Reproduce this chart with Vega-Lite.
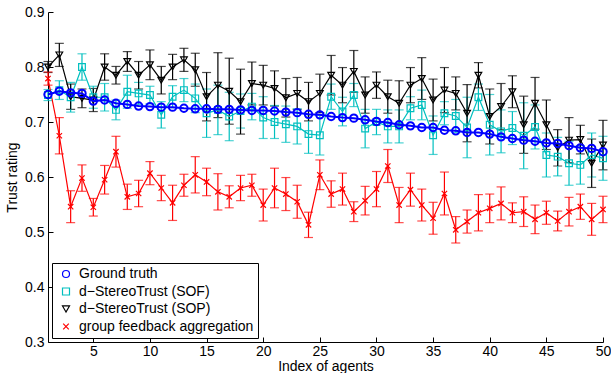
{
  "$schema": "https://vega.github.io/schema/vega-lite/v6.json",
  "width": 555,
  "height": 330,
  "autosize": "none",
  "padding": {"left": 48, "top": 12, "right": 8, "bottom": 31},
  "background": "white",
  "config": {
    "view": {"stroke": null},
    "font": "Liberation Sans",
    "axis": {
      "domainColor": "black", "domainWidth": 1, "tickColor": "black", "tickSize": -5, "tickWidth": 1,
      "labelColor": "black", "labelFont": "Liberation Sans", "labelFontSize": 14,
      "titleColor": "black", "titleFont": "Liberation Sans", "titleFontSize": 14, "titleFontWeight": "normal",
      "grid": false
    },
    "legend": {
      "labelFont": "Liberation Sans", "labelFontSize": 14, "labelColor": "black", "labelLimit": 400,
      "symbolSize": 49, "symbolStrokeWidth": 1.2, "symbolOffset": 3, "labelOffset": 6,
      "fillColor": "white", "strokeColor": "black", "padding": 4, "rowPadding": 3.5, "cornerRadius": 0
    }
  },
  "resolve": {"legend": {"color": "independent", "shape": "independent"}},
  "data": {"values": [
    {"s":"Ground truth","x":1,"y":0.750,"e":0},{"s":"Ground truth","x":2,"y":0.756,"e":0},{"s":"Ground truth","x":3,"y":0.753,"e":0},{"s":"Ground truth","x":4,"y":0.752,"e":0},{"s":"Ground truth","x":5,"y":0.738,"e":0},
    {"s":"Ground truth","x":6,"y":0.740,"e":0},{"s":"Ground truth","x":7,"y":0.734,"e":0},{"s":"Ground truth","x":8,"y":0.732,"e":0},{"s":"Ground truth","x":9,"y":0.729,"e":0},{"s":"Ground truth","x":10,"y":0.728,"e":0},
    {"s":"Ground truth","x":11,"y":0.727,"e":0},{"s":"Ground truth","x":12,"y":0.727,"e":0},{"s":"Ground truth","x":13,"y":0.725,"e":0},{"s":"Ground truth","x":14,"y":0.724,"e":0},{"s":"Ground truth","x":15,"y":0.724,"e":0},
    {"s":"Ground truth","x":16,"y":0.723,"e":0},{"s":"Ground truth","x":17,"y":0.723,"e":0},{"s":"Ground truth","x":18,"y":0.722,"e":0},{"s":"Ground truth","x":19,"y":0.721,"e":0},{"s":"Ground truth","x":20,"y":0.721,"e":0},
    {"s":"Ground truth","x":21,"y":0.720,"e":0},{"s":"Ground truth","x":22,"y":0.718,"e":0},{"s":"Ground truth","x":23,"y":0.717,"e":0},{"s":"Ground truth","x":24,"y":0.714,"e":0},{"s":"Ground truth","x":25,"y":0.713,"e":0},
    {"s":"Ground truth","x":26,"y":0.710,"e":0},{"s":"Ground truth","x":27,"y":0.708,"e":0},{"s":"Ground truth","x":28,"y":0.707,"e":0},{"s":"Ground truth","x":29,"y":0.704,"e":0},{"s":"Ground truth","x":30,"y":0.701,"e":0},
    {"s":"Ground truth","x":31,"y":0.699,"e":0},{"s":"Ground truth","x":32,"y":0.695,"e":0},{"s":"Ground truth","x":33,"y":0.693,"e":0},{"s":"Ground truth","x":34,"y":0.690,"e":0},{"s":"Ground truth","x":35,"y":0.690,"e":0},
    {"s":"Ground truth","x":36,"y":0.685,"e":0},{"s":"Ground truth","x":37,"y":0.684,"e":0},{"s":"Ground truth","x":38,"y":0.681,"e":0},{"s":"Ground truth","x":39,"y":0.681,"e":0},{"s":"Ground truth","x":40,"y":0.678,"e":0},
    {"s":"Ground truth","x":41,"y":0.673,"e":0},{"s":"Ground truth","x":42,"y":0.670,"e":0},{"s":"Ground truth","x":43,"y":0.667,"e":0},{"s":"Ground truth","x":44,"y":0.665,"e":0},{"s":"Ground truth","x":45,"y":0.662,"e":0},
    {"s":"Ground truth","x":46,"y":0.661,"e":0},{"s":"Ground truth","x":47,"y":0.657,"e":0},{"s":"Ground truth","x":48,"y":0.653,"e":0},{"s":"Ground truth","x":49,"y":0.652,"e":0},{"s":"Ground truth","x":50,"y":0.646,"e":0},

    {"s":"d−StereoTrust (SOF)","x":1,"y":0.749,"e":0.010},{"s":"d−StereoTrust (SOF)","x":2,"y":0.758,"e":0.017},{"s":"d−StereoTrust (SOF)","x":3,"y":0.745,"e":0.027},{"s":"d−StereoTrust (SOF)","x":4,"y":0.800,"e":0.024},{"s":"d−StereoTrust (SOF)","x":5,"y":0.745,"e":0.020},
    {"s":"d−StereoTrust (SOF)","x":6,"y":0.745,"e":0.025},{"s":"d−StereoTrust (SOF)","x":7,"y":0.722,"e":0.018},{"s":"d−StereoTrust (SOF)","x":8,"y":0.755,"e":0.030},{"s":"d−StereoTrust (SOF)","x":9,"y":0.752,"e":0.020},{"s":"d−StereoTrust (SOF)","x":10,"y":0.749,"e":0.016},
    {"s":"d−StereoTrust (SOF)","x":11,"y":0.713,"e":0.024},{"s":"d−StereoTrust (SOF)","x":12,"y":0.746,"e":0.020},{"s":"d−StereoTrust (SOF)","x":13,"y":0.758,"e":0.021},{"s":"d−StereoTrust (SOF)","x":14,"y":0.743,"e":0.026},{"s":"d−StereoTrust (SOF)","x":15,"y":0.716,"e":0.044},
    {"s":"d−StereoTrust (SOF)","x":16,"y":0.722,"e":0.045},{"s":"d−StereoTrust (SOF)","x":17,"y":0.710,"e":0.044},{"s":"d−StereoTrust (SOF)","x":18,"y":0.720,"e":0.031},{"s":"d−StereoTrust (SOF)","x":19,"y":0.728,"e":0.024},{"s":"d−StereoTrust (SOF)","x":20,"y":0.708,"e":0.038},
    {"s":"d−StereoTrust (SOF)","x":21,"y":0.700,"e":0.030},{"s":"d−StereoTrust (SOF)","x":22,"y":0.696,"e":0.033},{"s":"d−StereoTrust (SOF)","x":23,"y":0.692,"e":0.032},{"s":"d−StereoTrust (SOF)","x":24,"y":0.678,"e":0.035},{"s":"d−StereoTrust (SOF)","x":25,"y":0.676,"e":0.036},
    {"s":"d−StereoTrust (SOF)","x":26,"y":0.746,"e":0.023},{"s":"d−StereoTrust (SOF)","x":27,"y":0.719,"e":0.026},{"s":"d−StereoTrust (SOF)","x":28,"y":0.749,"e":0.021},{"s":"d−StereoTrust (SOF)","x":29,"y":0.688,"e":0.035},{"s":"d−StereoTrust (SOF)","x":30,"y":0.700,"e":0.023},
    {"s":"d−StereoTrust (SOF)","x":31,"y":0.692,"e":0.030},{"s":"d−StereoTrust (SOF)","x":32,"y":0.692,"e":0.030},{"s":"d−StereoTrust (SOF)","x":33,"y":0.725,"e":0.021},{"s":"d−StereoTrust (SOF)","x":34,"y":0.731,"e":0.027},{"s":"d−StereoTrust (SOF)","x":35,"y":0.676,"e":0.035},
    {"s":"d−StereoTrust (SOF)","x":36,"y":0.716,"e":0.021},{"s":"d−StereoTrust (SOF)","x":37,"y":0.711,"e":0.030},{"s":"d−StereoTrust (SOF)","x":38,"y":0.690,"e":0.055},{"s":"d−StereoTrust (SOF)","x":39,"y":0.745,"e":0.024},{"s":"d−StereoTrust (SOF)","x":40,"y":0.695,"e":0.055},
    {"s":"d−StereoTrust (SOF)","x":41,"y":0.683,"e":0.039},{"s":"d−StereoTrust (SOF)","x":42,"y":0.689,"e":0.030},{"s":"d−StereoTrust (SOF)","x":43,"y":0.675,"e":0.060},{"s":"d−StereoTrust (SOF)","x":44,"y":0.691,"e":0.040},{"s":"d−StereoTrust (SOF)","x":45,"y":0.640,"e":0.040},
    {"s":"d−StereoTrust (SOF)","x":46,"y":0.637,"e":0.035},{"s":"d−StereoTrust (SOF)","x":47,"y":0.625,"e":0.040},{"s":"d−StereoTrust (SOF)","x":48,"y":0.622,"e":0.035},{"s":"d−StereoTrust (SOF)","x":49,"y":0.640,"e":0.040},{"s":"d−StereoTrust (SOF)","x":50,"y":0.634,"e":0.040},

    {"s":"d−StereoTrust (SOP)","x":1,"y":0.800,"e":0.010},{"s":"d−StereoTrust (SOP)","x":2,"y":0.822,"e":0.021},{"s":"d−StereoTrust (SOP)","x":3,"y":0.746,"e":0.023},{"s":"d−StereoTrust (SOP)","x":4,"y":0.743,"e":0.017},{"s":"d−StereoTrust (SOP)","x":5,"y":0.740,"e":0.021},
    {"s":"d−StereoTrust (SOP)","x":6,"y":0.800,"e":0.024},{"s":"d−StereoTrust (SOP)","x":7,"y":0.785,"e":0.016},{"s":"d−StereoTrust (SOP)","x":8,"y":0.810,"e":0.018},{"s":"d−StereoTrust (SOP)","x":9,"y":0.785,"e":0.025},{"s":"d−StereoTrust (SOP)","x":10,"y":0.804,"e":0.027},
    {"s":"d−StereoTrust (SOP)","x":11,"y":0.776,"e":0.025},{"s":"d−StereoTrust (SOP)","x":12,"y":0.800,"e":0.023},{"s":"d−StereoTrust (SOP)","x":13,"y":0.813,"e":0.021},{"s":"d−StereoTrust (SOP)","x":14,"y":0.795,"e":0.030},{"s":"d−StereoTrust (SOP)","x":15,"y":0.746,"e":0.044},
    {"s":"d−StereoTrust (SOP)","x":16,"y":0.767,"e":0.059},{"s":"d−StereoTrust (SOP)","x":17,"y":0.756,"e":0.060},{"s":"d−StereoTrust (SOP)","x":18,"y":0.737,"e":0.059},{"s":"d−StereoTrust (SOP)","x":19,"y":0.770,"e":0.039},{"s":"d−StereoTrust (SOP)","x":20,"y":0.767,"e":0.036},
    {"s":"d−StereoTrust (SOP)","x":21,"y":0.761,"e":0.032},{"s":"d−StereoTrust (SOP)","x":22,"y":0.744,"e":0.035},{"s":"d−StereoTrust (SOP)","x":23,"y":0.752,"e":0.029},{"s":"d−StereoTrust (SOP)","x":24,"y":0.737,"e":0.035},{"s":"d−StereoTrust (SOP)","x":25,"y":0.752,"e":0.035},
    {"s":"d−StereoTrust (SOP)","x":26,"y":0.785,"e":0.036},{"s":"d−StereoTrust (SOP)","x":27,"y":0.767,"e":0.032},{"s":"d−StereoTrust (SOP)","x":28,"y":0.792,"e":0.038},{"s":"d−StereoTrust (SOP)","x":29,"y":0.749,"e":0.033},{"s":"d−StereoTrust (SOP)","x":30,"y":0.767,"e":0.024},
    {"s":"d−StereoTrust (SOP)","x":31,"y":0.746,"e":0.030},{"s":"d−StereoTrust (SOP)","x":32,"y":0.734,"e":0.041},{"s":"d−StereoTrust (SOP)","x":33,"y":0.767,"e":0.032},{"s":"d−StereoTrust (SOP)","x":34,"y":0.779,"e":0.038},{"s":"d−StereoTrust (SOP)","x":35,"y":0.740,"e":0.038},
    {"s":"d−StereoTrust (SOP)","x":36,"y":0.758,"e":0.041},{"s":"d−StereoTrust (SOP)","x":37,"y":0.752,"e":0.030},{"s":"d−StereoTrust (SOP)","x":38,"y":0.716,"e":0.052},{"s":"d−StereoTrust (SOP)","x":39,"y":0.785,"e":0.023},{"s":"d−StereoTrust (SOP)","x":40,"y":0.710,"e":0.050},
    {"s":"d−StereoTrust (SOP)","x":41,"y":0.728,"e":0.042},{"s":"d−StereoTrust (SOP)","x":42,"y":0.755,"e":0.029},{"s":"d−StereoTrust (SOP)","x":43,"y":0.695,"e":0.052},{"s":"d−StereoTrust (SOP)","x":44,"y":0.734,"e":0.047},{"s":"d−StereoTrust (SOP)","x":45,"y":0.695,"e":0.045},
    {"s":"d−StereoTrust (SOP)","x":46,"y":0.653,"e":0.033},{"s":"d−StereoTrust (SOP)","x":47,"y":0.667,"e":0.041},{"s":"d−StereoTrust (SOP)","x":48,"y":0.668,"e":0.026},{"s":"d−StereoTrust (SOP)","x":49,"y":0.625,"e":0.044},{"s":"d−StereoTrust (SOP)","x":50,"y":0.658,"e":0.045},

    {"s":"group feedback aggregation","x":1,"y":0.779,"e":0.012},{"s":"group feedback aggregation","x":2,"y":0.675,"e":0.033},{"s":"group feedback aggregation","x":3,"y":0.546,"e":0.029},{"s":"group feedback aggregation","x":4,"y":0.598,"e":0.024},{"s":"group feedback aggregation","x":5,"y":0.545,"e":0.016},
    {"s":"group feedback aggregation","x":6,"y":0.595,"e":0.026},{"s":"group feedback aggregation","x":7,"y":0.646,"e":0.028},{"s":"group feedback aggregation","x":8,"y":0.564,"e":0.023},{"s":"group feedback aggregation","x":9,"y":0.570,"e":0.024},{"s":"group feedback aggregation","x":10,"y":0.607,"e":0.021},
    {"s":"group feedback aggregation","x":11,"y":0.580,"e":0.023},{"s":"group feedback aggregation","x":12,"y":0.553,"e":0.032},{"s":"group feedback aggregation","x":13,"y":0.585,"e":0.020},{"s":"group feedback aggregation","x":14,"y":0.604,"e":0.033},{"s":"group feedback aggregation","x":15,"y":0.591,"e":0.025},
    {"s":"group feedback aggregation","x":16,"y":0.573,"e":0.033},{"s":"group feedback aggregation","x":17,"y":0.564,"e":0.020},{"s":"group feedback aggregation","x":18,"y":0.580,"e":0.023},{"s":"group feedback aggregation","x":19,"y":0.585,"e":0.020},{"s":"group feedback aggregation","x":20,"y":0.549,"e":0.029},
    {"s":"group feedback aggregation","x":21,"y":0.580,"e":0.036},{"s":"group feedback aggregation","x":22,"y":0.569,"e":0.030},{"s":"group feedback aggregation","x":23,"y":0.555,"e":0.030},{"s":"group feedback aggregation","x":24,"y":0.513,"e":0.023},{"s":"group feedback aggregation","x":25,"y":0.604,"e":0.027},
    {"s":"group feedback aggregation","x":26,"y":0.569,"e":0.024},{"s":"group feedback aggregation","x":27,"y":0.578,"e":0.029},{"s":"group feedback aggregation","x":28,"y":0.537,"e":0.018},{"s":"group feedback aggregation","x":29,"y":0.557,"e":0.026},{"s":"group feedback aggregation","x":30,"y":0.578,"e":0.032},
    {"s":"group feedback aggregation","x":31,"y":0.620,"e":0.030},{"s":"group feedback aggregation","x":32,"y":0.549,"e":0.032},{"s":"group feedback aggregation","x":33,"y":0.577,"e":0.030},{"s":"group feedback aggregation","x":34,"y":0.549,"e":0.029},{"s":"group feedback aggregation","x":35,"y":0.525,"e":0.029},
    {"s":"group feedback aggregation","x":36,"y":0.570,"e":0.039},{"s":"group feedback aggregation","x":37,"y":0.504,"e":0.024},{"s":"group feedback aggregation","x":38,"y":0.519,"e":0.021},{"s":"group feedback aggregation","x":39,"y":0.535,"e":0.033},{"s":"group feedback aggregation","x":40,"y":0.543,"e":0.026},
    {"s":"group feedback aggregation","x":41,"y":0.552,"e":0.030},{"s":"group feedback aggregation","x":42,"y":0.535,"e":0.018},{"s":"group feedback aggregation","x":43,"y":0.537,"e":0.027},{"s":"group feedback aggregation","x":44,"y":0.523,"e":0.026},{"s":"group feedback aggregation","x":45,"y":0.535,"e":0.021},
    {"s":"group feedback aggregation","x":46,"y":0.520,"e":0.018},{"s":"group feedback aggregation","x":47,"y":0.537,"e":0.026},{"s":"group feedback aggregation","x":48,"y":0.546,"e":0.023},{"s":"group feedback aggregation","x":49,"y":0.523,"e":0.029},{"s":"group feedback aggregation","x":50,"y":0.541,"e":0.024}
  ]},
  "encoding": {
    "x": {"field": "x", "type": "quantitative", "scale": {"domain": [1, 50], "nice": false, "zero": false},
          "axis": {"title": "Index of agents", "values": [5,10,15,20,25,30,35,40,45,50], "labelPadding": 7, "titlePadding": 1, "labelFlush": false}},
    "y": {"field": "y", "type": "quantitative", "scale": {"domain": [0.3, 0.9], "nice": false, "zero": false},
          "axis": {"title": "Trust rating", "values": [0.3,0.4,0.5,0.6,0.7,0.8,0.9], "format": ".1f", "labelPadding": 9, "titlePadding": 5, "labelFlush": false}}
  },
  "layer": [
    {
      "transform": [{"filter": "datum.s !== 'Ground truth'"}],
      "mark": {"type": "errorbar", "ticks": {"size": 9}, "thickness": 1.2},
      "encoding": {
        "yError": {"field": "e"},
        "color": {"field": "s", "type": "nominal", "legend": null,
          "scale": {"domain": ["Ground truth", "d−StereoTrust (SOF)", "d−StereoTrust (SOP)", "group feedback aggregation"], "range": ["#0000FF", "#00BFBF", "#000000", "#FF0000"]}}
      }
    },
    {
      "transform": [{"filter": "datum.s !== 'Ground truth'"}],
      "mark": {"type": "line", "strokeWidth": 1.2},
      "encoding": {
        "color": {"field": "s", "type": "nominal", "legend": null}
      }
    },
    {
      "transform": [{"filter": "datum.s !== 'Ground truth'"}],
      "mark": {"type": "point", "filled": false, "size": 45, "strokeWidth": 1.2, "opacity": 1},
      "encoding": {
        "color": {"field": "s", "type": "nominal", "legend": null},
        "shape": {
          "field": "s", "type": "nominal", "legend": null,
          "scale": {
            "domain": ["Ground truth", "d−StereoTrust (SOF)", "d−StereoTrust (SOP)", "group feedback aggregation"],
            "range": ["circle", "square", "triangle-down", "M-0.8,-0.8L0.8,0.8M-0.8,0.8L0.8,-0.8"]
          }
        }
      }
    },
    {
      "transform": [{"filter": "datum.s === 'Ground truth'"}],
      "mark": {"type": "line", "strokeWidth": 2},
      "encoding": {
        "color": {"field": "s", "type": "nominal", "legend": null}
      }
    },
    {
      "transform": [{"filter": "datum.s === 'Ground truth'"}],
      "mark": {"type": "point", "filled": false, "size": 55, "strokeWidth": 2, "opacity": 1},
      "encoding": {
        "color": {"field": "s", "type": "nominal",
          "legend": {
            "orient": "none", "legendX": 4, "legendY": 251, "title": null,
            "labelFontSize": 14, "labelLimit": 400, "symbolOffset": 3, "labelOffset": 6,
            "values": ["Ground truth", "d−StereoTrust (SOF)", "d−StereoTrust (SOP)", "group feedback aggregation"]
          }
        },
        "shape": {
          "field": "s", "type": "nominal", "legend": null
        }
      }
    }
  ]
}
